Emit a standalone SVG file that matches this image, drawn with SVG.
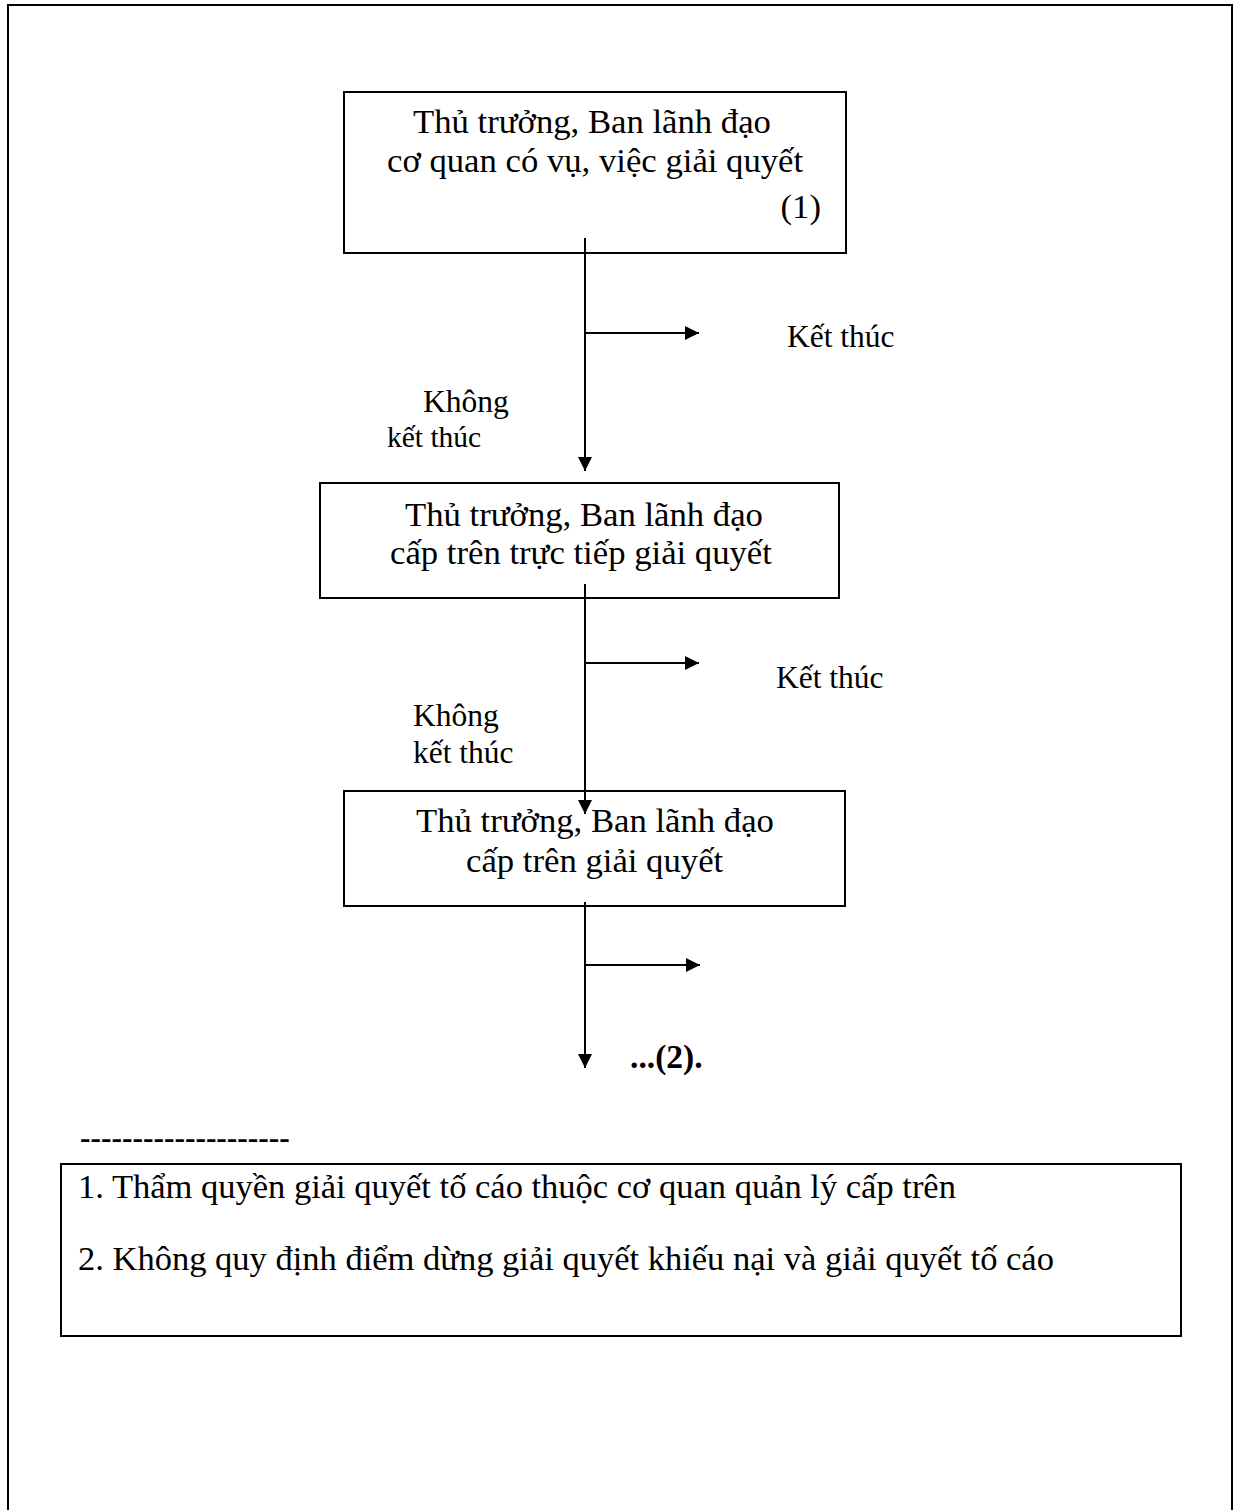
<svg xmlns="http://www.w3.org/2000/svg" width="1240" height="1510" viewBox="0 0 1240 1510">
  <style>
    .frame { fill: none; stroke: #000; stroke-width: 2; }
    .box { fill: #fff; stroke: #000; stroke-width: 2; }
    .line { fill: none; stroke: #000; stroke-width: 2; }
    text { font-family: "Liberation Serif", "Times New Roman", serif; fill: #000; }
    .t { font-size: 34.7px; }
    .lbl { font-size: 31.5px; }
    .s { font-size: 29.5px; }
    .note { font-size: 34.5px; }
    .b { font-weight: bold; }
  </style>
  <defs>
    <marker id="arrow" viewBox="0 0 10 10" refX="10" refY="5" markerWidth="16" markerHeight="14" markerUnits="userSpaceOnUse" orient="auto">
      <path d="M0,0 L10,5 L0,10 z" fill="#000"/>
    </marker>
  </defs>

  <rect width="1240" height="1510" fill="#fff"/>
  <!-- page frame, open at the bottom -->
  <path class="frame" d="M8,1510 V5 H1232 V1510"/>

  <g id="node-1">
    <rect class="box" x="344" y="92" width="502" height="161"/>
    <text class="t" x="413" y="133">Thủ trưởng, Ban lãnh đạo</text>
    <text class="t" x="387" y="172">cơ quan có vụ, việc giải quyết</text>
    <text class="t" x="821" y="218" text-anchor="end">(1)</text>
  </g>

  <g id="node-2">
    <rect class="box" x="320" y="483" width="519" height="115"/>
    <text class="t" x="405" y="526">Thủ trưởng, Ban lãnh đạo</text>
    <text class="t" x="390" y="564">cấp trên trực tiếp giải quyết</text>
  </g>

  <g id="node-3">
    <rect class="box" x="344" y="791" width="501" height="115"/>
    <text class="t" x="416" y="832">Thủ trưởng, Ban lãnh đạo</text>
    <text class="t" x="466" y="872">cấp trên giải quyết</text>
  </g>

  <g id="connectors">
    <line class="line" x1="585" y1="238" x2="585" y2="471" marker-end="url(#arrow)"/>
    <line class="line" x1="585" y1="333" x2="699" y2="333" marker-end="url(#arrow)"/>
    <line class="line" x1="585" y1="584" x2="585" y2="814" marker-end="url(#arrow)"/>
    <line class="line" x1="585" y1="663" x2="699" y2="663" marker-end="url(#arrow)"/>
    <line class="line" x1="585" y1="902" x2="585" y2="1068" marker-end="url(#arrow)"/>
    <line class="line" x1="585" y1="965" x2="700" y2="965" marker-end="url(#arrow)"/>
  </g>

  <g id="labels">
    <text class="lbl" x="787" y="347">Kết thúc</text>
    <text class="lbl" x="423" y="412">Không</text>
    <text class="s" x="387" y="447">kết thúc</text>
    <text class="lbl" x="776" y="688">Kết thúc</text>
    <text class="lbl" x="413" y="726">Không</text>
    <text class="lbl" x="413" y="763">kết thúc</text>
    <text class="t b" x="630" y="1068" style="font-size:33.5px">...(2).</text>
  </g>

  <g id="notes">
    <text class="b" x="80" y="1148" style="font-size:31.5px">--------------------</text>
    <rect class="box" x="61" y="1164" width="1120" height="172"/>
    <text class="note" x="78" y="1198">1. Thẩm quyền giải quyết tố cáo thuộc cơ quan quản lý cấp trên</text>
    <text class="note" x="78" y="1270">2. Không quy định điểm dừng giải quyết khiếu nại và giải quyết tố cáo</text>
  </g>
</svg>
